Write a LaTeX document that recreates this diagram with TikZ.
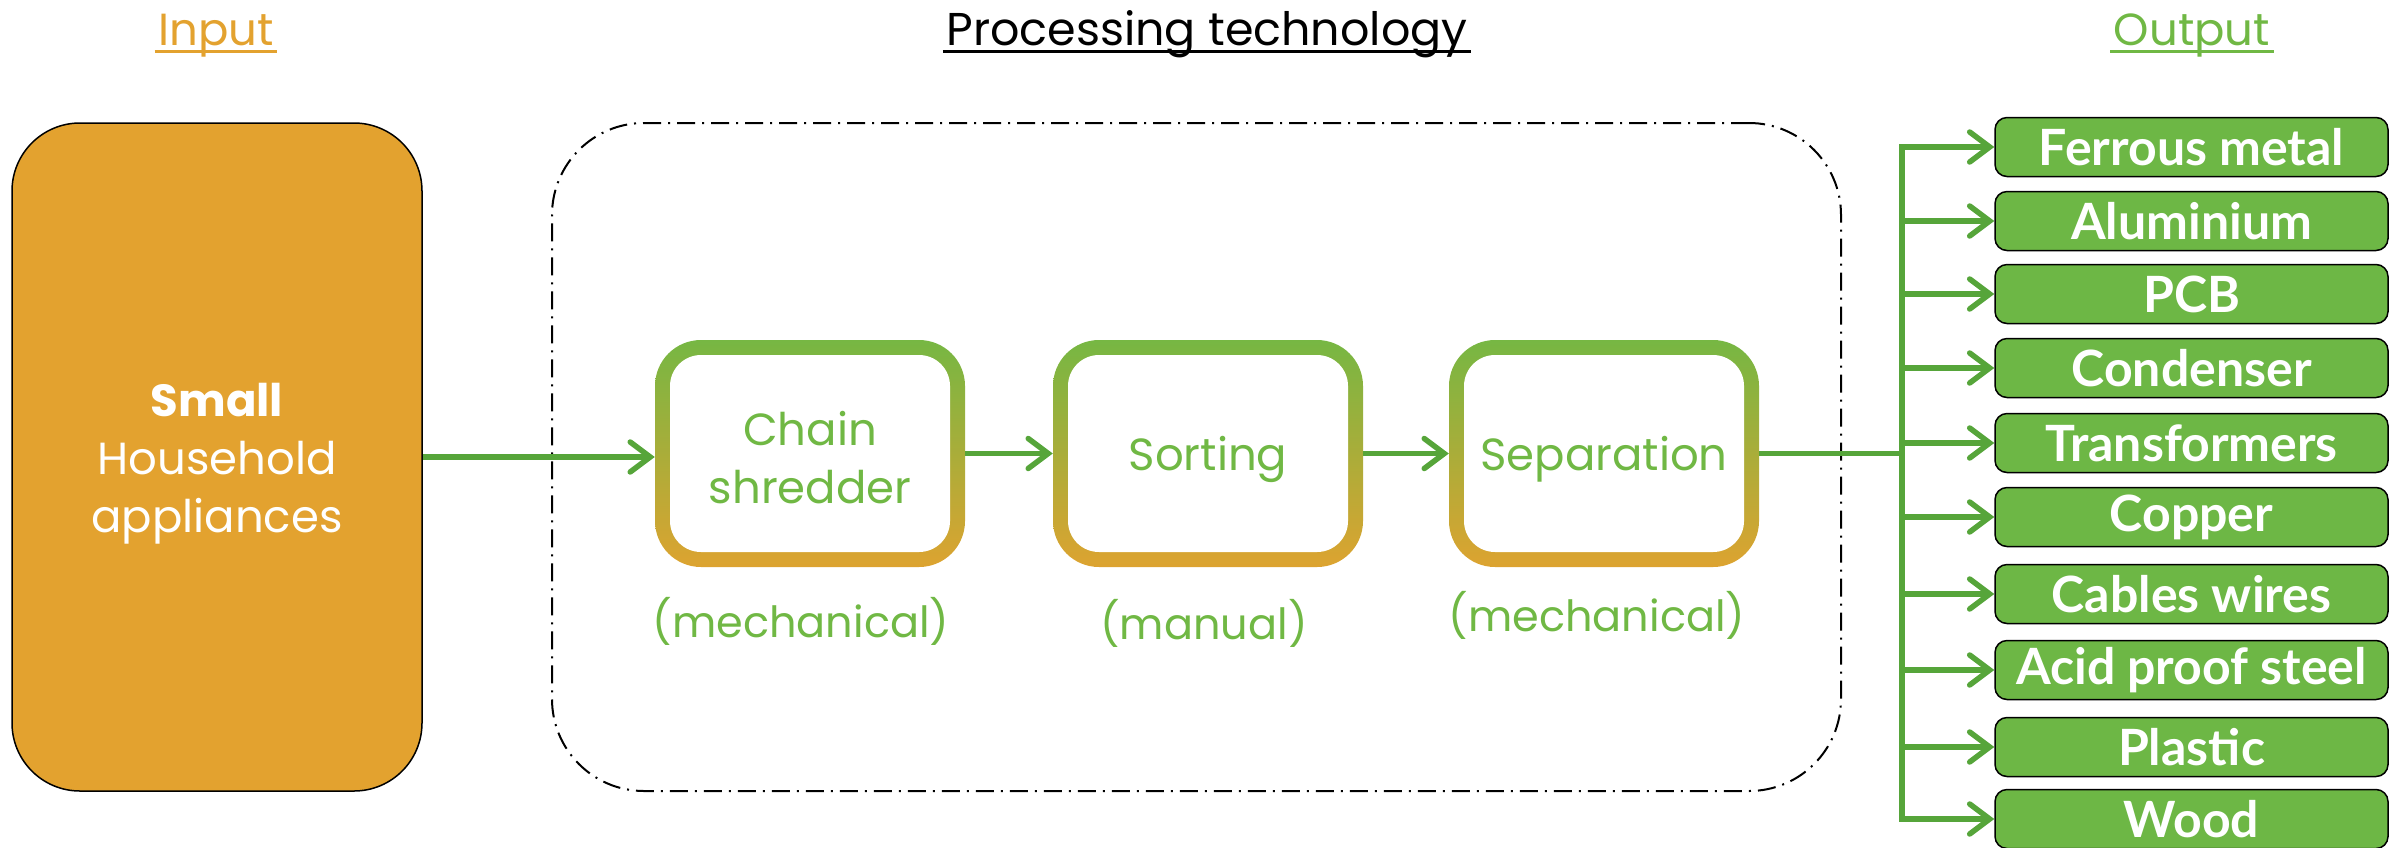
\documentclass[tikz,border=0pt]{standalone}
\usepackage{fontspec}
\setmainfont{Poppins}
\newfontfamily\latofont{Lato}
\usetikzlibrary{arrows.meta}
\definecolor{orng}{RGB}{227,162,47}
\definecolor{grn}{RGB}{112,184,68}
\definecolor{lgrn}{RGB}{86,165,58}
\definecolor{ogrn}{RGB}{109,183,69}
\pgfdeclareverticalshading{procshade}{100bp}{color(0bp)=(orng); color(22bp)=(orng); color(78bp)=(grn); color(100bp)=(grn)}
\tikzset{
  big/.style={font=\fontsize{45}{58}\selectfont},
  inbox/.style={draw=black, line width=1.5pt, fill=orng, rounded corners=68pt,
    minimum width=410pt, minimum height=668pt, text=white, align=center, big},
  frame/.style={draw=black, line width=2pt, rounded corners=92pt,
    dash pattern=on 18pt off 7pt on 2pt off 7pt,
    minimum width=1289pt, minimum height=668pt},
  procbox/.style={minimum width=310pt, minimum height=227pt, rounded corners=46pt,
    shading=procshade, text=grn, align=center, big,
    path picture={\fill[white, rounded corners=31pt]
      ([shift={(15pt,-15pt)}]path picture bounding box.north west) rectangle
      ([shift={(-15pt,15pt)}]path picture bounding box.south east);}},
  sublabel/.style={text=grn, font=\fontsize{43}{50}\selectfont},
  outbox/.style={draw=black, line width=1.5pt, fill=ogrn, rounded corners=12pt,
    minimum width=393pt, minimum height=59pt, inner sep=0pt, text=white,
    font=\latofont\bfseries\fontsize{50}{55}\selectfont},
  conn/.style={draw=lgrn, line width=5.5pt,
    -{Straight Barb[length=20pt,width=30pt,line cap=round]}},
  wire/.style={draw=lgrn, line width=5.5pt},
  title/.style={anchor=base, big},
}
\begin{document}
\begin{tikzpicture}[x=1pt,y=-1pt]
\useasboundingbox (0,0) rectangle (2405,847);
% titles
\node[title, text=orng] (tin) at (216,45) {Input};
\node[title, font=\fontsize{46}{57}\selectfont] (tproc) at (1207,45) {Processing technology};
\node[title, text=grn] (tout) at (2192,45) {Output};
\draw[orng, line width=3pt] ([yshift=-6pt]tin.base west) -- ([yshift=-6pt]tin.base east);
\draw[black, line width=3pt] ([yshift=-6pt]tproc.base west) -- ([yshift=-6pt]tproc.base east);
\draw[grn, line width=3pt] ([yshift=-6pt]tout.base west) -- ([yshift=-6pt]tout.base east);
% input
\node[inbox] (input) at (217,457) {};
\node[text=white, align=center, big] (intext) at (217,464) {{\bfseries Small}\\Household\\appliances};
% frame
\node[frame] (frame) at (1196.5,457) {};
% process
\node[procbox] (chain) at (810,453.5) {};
\node[text=grn, align=center, big] (chaintext) at (810,458) {Chain\\shredder};
\node[procbox] (sort) at (1208,453.5) {};
\node[text=grn, big] (sorttext) at (1208,459) {Sorting};
\node[procbox] (sep) at (1604,453.5) {};
\node[text=grn, big] (septext) at (1604,459) {Separation};
\node[sublabel] (l1) at (801,621) {(mechanical)};
\node[sublabel] (l2) at (1204,623) {(manual)};
\node[sublabel] (l3) at (1597,615) {(mechanical)};
% outputs
\node[outbox] (o1) at (2191.5,147) {Ferrous metal};
\node[outbox] (o2) at (2191.5,221) {Aluminium};
\node[outbox] (o3) at (2191.5,294) {PCB};
\node[outbox] (o4) at (2191.5,368) {Condenser};
\node[outbox] (o5) at (2191.5,443) {Transformers};
\node[outbox] (o6) at (2191.5,517) {Copper};
\node[outbox] (o7) at (2191.5,594) {Cables wires};
\node[outbox] (o8) at (2191.5,670) {Acid proof steel};
\node[outbox] (o9) at (2191.5,747) {Plastic};
\node[outbox] (o10) at (2191.5,819) {Wood};
% connectors
\draw[conn] (input.east |- 0,457) -- (chain.west |- 0,457);
\draw[conn] (chain.east) -- (sort.west);
\draw[conn] (sort.east) -- (sep.west);
\coordinate (bus) at (1902,453.5);
\coordinate (bustop) at (1902,147);
\coordinate (busbot) at (1902,819);
\draw[wire] (sep.east) -- (bus);
\draw[wire, line cap=rect] (bustop) -- (busbot);
\foreach \o in {o1,o2,o3,o4,o5,o6,o7,o8,o9,o10}{
  \draw[conn] (\o.west -| bus) -- (\o.west);
}
\end{tikzpicture}
\end{document}
